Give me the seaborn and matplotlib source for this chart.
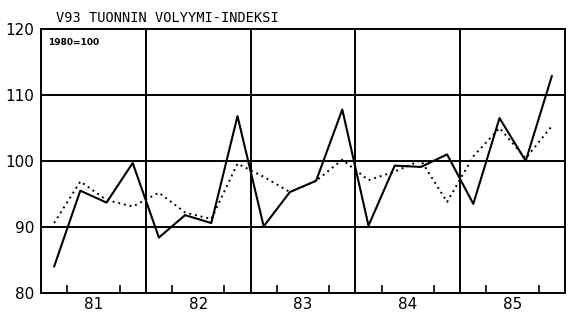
import numpy as np
import pandas as pd
import matplotlib
matplotlib.use("Agg")
import matplotlib.pyplot as plt
import seaborn as sns

years = [81, 82, 83, 84, 85]
quarters = [1, 2, 3, 4]
actual = [84.0, 95.5, 93.7, 99.7,
          88.4, 91.8, 90.6, 106.8,
          90.1, 95.3, 97.0, 107.8,
          90.2, 99.3, 99.1, 101.0,
          93.5, 106.5, 100.0, 112.9]
trend = [90.6, 96.9, 94.1, 93.1,
         95.2, 92.2, 91.2, 99.6,
         97.6, 95.3, 97.0, 100.2,
         97.1, 98.4, 100.1, 93.8,
         100.7, 105.0, 100.4, 105.3]
title = "V93 TUONNIN VOLYYMI-INDEKSI"
base_note = "1980=100"

rows = []
for i, y in enumerate(years):
    for j, q in enumerate(quarters):
        t = y + (q - 0.5) / 4
        rows.append({"t": t, "value": actual[i * 4 + j], "series": "actual"})
        rows.append({"t": t, "value": trend[i * 4 + j], "series": "trend"})
df = pd.DataFrame(rows)

sns.set_style("white")
plt.rcParams['font.family'] = ['DejaVu Sans']
plt.rcParams['text.color'] = 'black'
plt.rcParams['xtick.color'] = 'black'
plt.rcParams['ytick.color'] = 'black'

fig = plt.figure(figsize=(5.68, 3.15), dpi=100)
ax = fig.add_axes([41 / 568, 1 - 293 / 315, 524 / 568, 264 / 315])

sns.lineplot(data=df[df.series == "actual"], x="t", y="value", color="black",
             lw=1.5, ax=ax, legend=False)
sns.lineplot(data=df[df.series == "trend"], x="t", y="value", color="black",
             lw=1.4, ls=(0, (1, 2)), ax=ax, legend=False)

ax.set_xlim(years[0], years[-1] + 1)
ax.set_ylim(80, 120)

# grid
for v in [90, 100, 110]:
    ax.axhline(v, color="black", lw=1.4, zorder=0)
for y in years[1:]:
    ax.axvline(y, color="black", lw=1.4, zorder=0)

for s in ax.spines.values():
    s.set_color("black")
    s.set_linewidth(1.4)

ax.set_yticks([80, 90, 100, 110, 120])
ax.set_yticklabels(["80", "90", "100", "110", "120"], fontsize=11)
ax.tick_params(axis="y", length=0, pad=5)

ax.set_xticks([y + 0.5 for y in years])
ax.set_xticklabels([str(y) for y in years], fontsize=11)
ax.set_xticks([y + f for y in years for f in (0.25, 0.75)], minor=True)
ax.tick_params(axis="x", which="major", direction="in", length=9, width=1.2, pad=3)
ax.tick_params(axis="x", which="minor", direction="in", length=6, width=1.2,
               bottom=True)

ax.set_xlabel("")
ax.set_ylabel("")

ax.text(0.013, 0.965, base_note, transform=ax.transAxes, fontsize=6.5,
        fontweight="bold", va="top", ha="left")
fig.text(56 / 568, 1 - 18 / 315, title, fontsize=9.8, family="DejaVu Sans Mono",
         va="center", ha="left")

fig.savefig("out.png", dpi=100)
